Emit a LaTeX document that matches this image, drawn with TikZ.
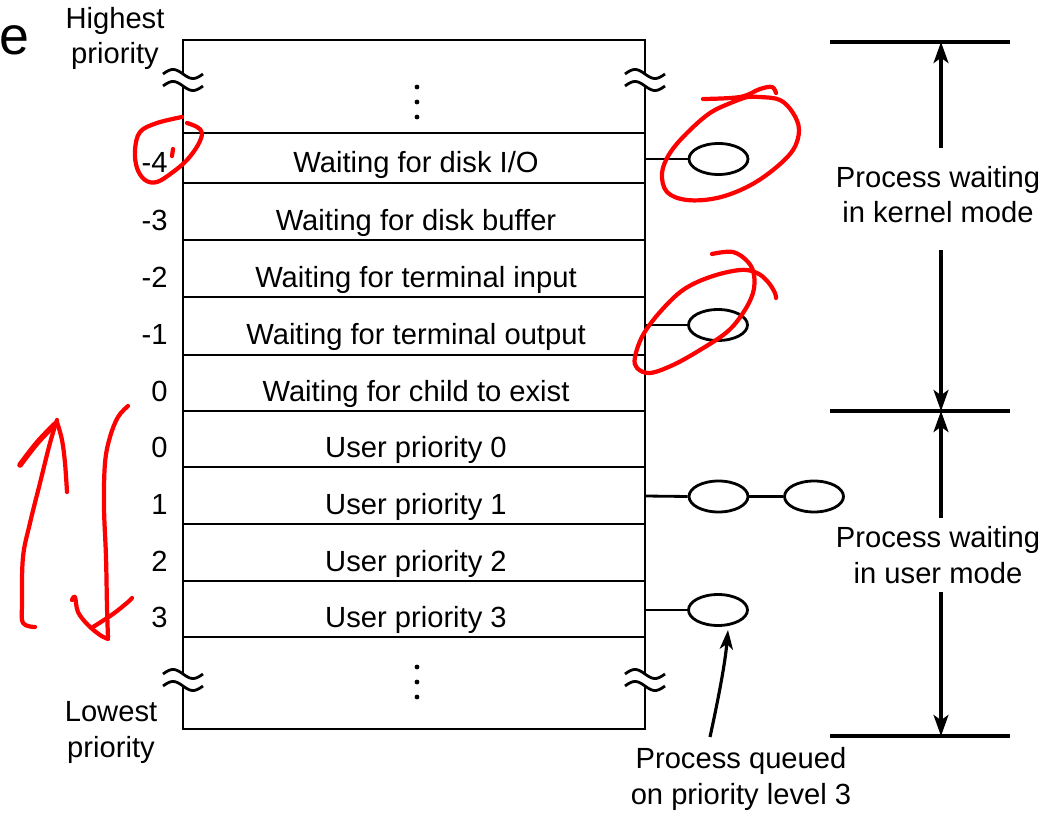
\documentclass[tikz,border=0pt]{standalone}
\usepackage{fontspec}
\setmainfont{Liberation Sans}
\usetikzlibrary{shapes.geometric,arrows.meta}
\begin{document}
\begin{tikzpicture}[x=0.02cm,y=-0.02cm,
  every node/.style={font=\fontsize{16.6}{20.4}\selectfont, inner sep=0pt},
  box/.style={line width=1.6pt},
  rline/.style={line width=1.9pt},
  arr/.style={line width=1.8pt,-{Stealth[length=12pt,width=8.5pt,inset=3pt]}},
  queue/.style={ellipse, draw, line width=1.6pt, minimum width=1.18cm, minimum height=0.62cm},
  redmark/.style={draw=red, line width=2.4pt, line cap=round, line join=round}]
\useasboundingbox (0,0) rectangle (1059,814);
% title fragment
\node[font=\fontsize{30.6}{32}\selectfont, anchor=base west] (e) at (-1,55) {e};
% box outline with break marks
\draw[box] (183,74) -- (183,40) -- (645,40) -- (645,74);
\draw[box] (183,86) -- (183,674);
\draw[box] (645,86) -- (645,674);
\draw[box] (183,686) -- (183,729) -- (645,729) -- (645,686);
\foreach \cx/\cy in {183/80,645/80,183/680,645/680}{
  \draw[box] plot[domain=-20:20, samples=30, smooth, variable=\t] ({\cx+\t},{\cy-6+4.5*sin(9*\t)});
  \draw[box] plot[domain=-20:20, samples=30, smooth, variable=\t] ({\cx+\t},{\cy+6+4.5*sin(9*\t)});
}
% row lines
\foreach \yy in {133,183,240,297,355,411,467,524,581,637}{
  \draw[box] (183,\yy) -- (645,\yy);
}
% dots
\foreach \yy in {87,102,117,667,682,697}{
  \fill (417,\yy) circle (2.4);
}
% rows
\foreach \yy/\num/\txt [count=\i] in {
  173/-4/Waiting for disk I\slash O,
  231/-3/Waiting for disk buffer,
  288/-2/Waiting for terminal input,
  345/-1/Waiting for terminal output,
  401/0/Waiting for child to exist,
  458/0/User priority 0,
  514/1/User priority 1,
  571/2/User priority 2,
  627/3/User priority 3}{
  \node[anchor=base] (row\i) at (416,\yy) {\txt};
  \node[anchor=base east] (num\i) at (168,\yy) {\num};
}
% side labels (anchor base = last line baseline)
\node[anchor=base, align=center] (hi) at (115,64) {Highest\\priority};
\node[anchor=base, align=center] (lo) at (111,757) {Lowest\\priority};
% queues
\coordinate (edge1) at (645,159);
\coordinate (edge4) at (645,325);
\coordinate (edge7) at (645,496);
\coordinate (edge9) at (645,610);
\node[queue] (q1) at (718.5,159) {};
\node[queue] (q4) at (718,325) {};
\node[queue] (q7a) at (718.5,496.5) {};
\node[queue] (q7b) at (814,496.5) {};
\node[queue] (q9) at (718,610) {};
\draw[box] (edge1) -- (q1.west);
\draw[box] (edge4) -- (q4.west);
\draw[box] (edge7) -- (q7a.west);
\draw[box] (q7a.east) -- (q7b.west);
\draw[box] (edge9) -- (q9.west);
% queued label and arrow
\node[anchor=base, align=center] (ql) at (741,804) {Process queued\\on priority level 3};
\coordinate (qtail) at (710,737);
\coordinate (qtip) at (728,630);
\draw[line width=1.8pt,-{Stealth[length=11pt,width=7.5pt,inset=3pt]}] (qtail) .. controls (717,705) and (725,665) .. (qtip);
% right side ranges
\coordinate (t1) at (830,42); \coordinate (t2) at (1010,42);
\coordinate (m1) at (830,411); \coordinate (m2) at (1010,411);
\coordinate (b1) at (830,736); \coordinate (b2) at (1010,736);
\draw[rline] (t1) -- (t2);
\draw[rline] (m1) -- (m2);
\draw[rline] (b1) -- (b2);
\node[anchor=base, align=center] (kern) at (938,223) {Process waiting\\in kernel mode};
\node[anchor=base, align=center] (user) at (938,583) {Process waiting\\in user mode};
\coordinate (ka) at (941,148); \coordinate (kat) at (941,42);
\coordinate (kb) at (941,250); \coordinate (kbt) at (941,411);
\coordinate (ua) at (941,518); \coordinate (uat) at (941,411);
\coordinate (ub) at (941,592); \coordinate (ubt) at (941,736);
\draw[arr] (ka) -- (kat);
\draw[arr] (kb) -- (kbt);
\draw[arr] (ua) -- (uat);
\draw[arr] (ub) -- (ubt);
% red hand annotations
\draw[redmark] plot[smooth, tension=0.6] coordinates {(182,117) (157,123) (140,132) (135,150) (137,168) (145,180) (157,182) (173,172) (187,160) (198,145) (202,133) (197,127) (187,123)};
\draw[redmark] (173,149) -- (172,156);
\draw[redmark] plot[smooth, tension=0.6] coordinates {(703,99) (740,97) (760,89) (772,87) (776,93)};
\draw[redmark] plot[smooth, tension=0.6] coordinates {(747,97) (760,97) (780,100) (793,113) (799,130) (793,150) (773,170) (747,187) (717,198) (687,200) (667,192) (662,173) (670,153) (687,133) (710,113) (733,102) (747,97)};
\draw[redmark] plot[smooth, tension=0.6] coordinates {(712,254) (733,252) (748,262) (754,275) (753,293) (743,313) (727,332) (700,350) (673,365) (650,373) (637,368) (635,357) (643,335) (660,312) (683,290) (710,277) (740,270) (757,273) (768,282) (775,293) (776,298)};
% left arrows
\draw[redmark] plot[smooth, tension=0.6] coordinates {(35,627) (23,623) (22,603) (23,557) (30,523) (40,483) (50,443) (57,420)};
\draw[redmark, line width=3.2pt] plot[smooth, tension=0.6] coordinates {(55,424) (37,443) (20,465)};
\draw[redmark] plot[smooth, tension=0.6] coordinates {(57,422) (62,440) (65,463) (67,492)};
\draw[redmark] plot[smooth, tension=0.6] coordinates {(128,406) (118,417) (110,437) (105,463) (104,507) (106,557) (107,607) (108,638)};
\draw[redmark] plot[smooth, tension=0.6] coordinates {(72,600) (75,597) (78,612) (88,625) (100,635) (108,639)};
\draw[redmark] plot[smooth, tension=0.6] coordinates {(93,627) (113,614) (128,602) (132,598)};
\end{tikzpicture}
\end{document}
